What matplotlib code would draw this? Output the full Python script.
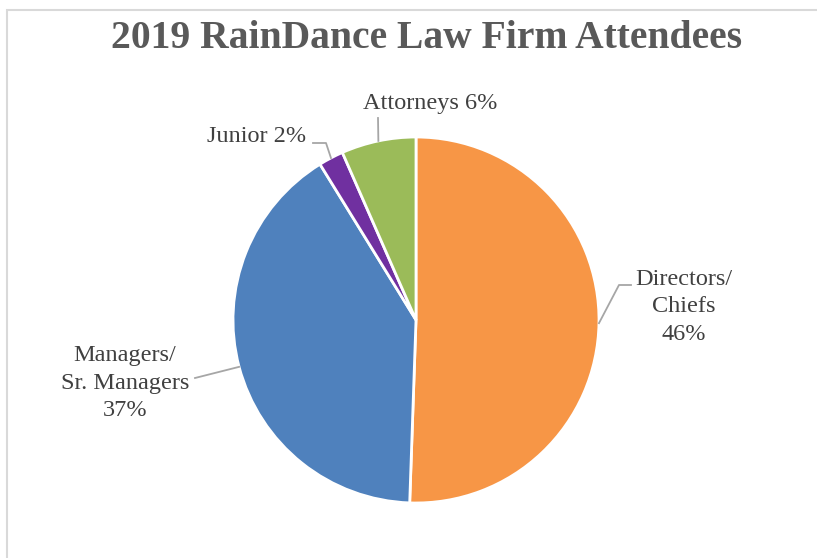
import numpy as np
import matplotlib.pyplot as plt
from matplotlib.patches import Rectangle

# data
categories = ['Directors/\nChiefs', 'Managers/\nSr. Managers', 'Junior', 'Attorneys']
values = [46, 37, 2, 6]
colors = ['#F79646', '#4F81BD', '#7030A0', '#9BBB59']

W, H = 817, 558
CX, CY, R = 416, 320, 183  # pie centre / radius in pixels


def px(x, y):
    # pixel -> pie data coords
    return ((x - CX) / R, (CY - y) / R)


fig = plt.figure(figsize=(W / 100, H / 100), dpi=100)
fig.patches.append(Rectangle((7 / W, -0.1), 1.2, 1 - 9.5 / H + 0.1, transform=fig.transFigure,
                             fill=False, edgecolor='#d9d9d9', lw=1.5))

ax = fig.add_axes([(CX - R) / W, (H - CY - R) / H, 2 * R / W, 2 * R / H])
wedges, _ = ax.pie(values, colors=colors, startangle=90, counterclock=False,
                   wedgeprops=dict(edgecolor='white', linewidth=2))
ax.set_xlim(-1, 1)
ax.set_ylim(-1, 1)
ax.set_aspect('equal')
ax.axis('off')

fig.text(427 / W, 1 - 38 / H, '2019 RainDance Law Firm Attendees', ha='center', va='center',
         fontsize=28.5, fontweight='bold', color='#595959', family='Liberation Serif')

# label texts, text positions and leader elbows (pixels)
label_txt = ['%s\n%d%%' % (categories[0], values[0]),
             '%s\n%d%%' % (categories[1], values[1]),
             '%s %d%%' % (categories[2], values[2]),
             '%s %d%%' % (categories[3], values[3])]
text_pos = [(684, 307), (125, 383), (257, 137), (430, 104)]
leader_mid = [(619, 285), None, (326, 143), None]
leader_end = [(631, 285), (195, 378), (313, 143), (378, 118)]

for w, txt, tp, mid, end in zip(wedges, label_txt, text_pos, leader_mid, leader_end):
    ang = np.deg2rad((w.theta1 + w.theta2) / 2)
    pts = [(np.cos(ang), np.sin(ang))]
    if mid is not None:
        pts.append(px(*mid))
    pts.append(px(*end))
    xs, ys = zip(*pts)
    ax.plot(xs, ys, color='#a6a6a6', lw=1.3, clip_on=False)
    tx, ty = px(*tp)
    ax.text(tx, ty, txt, ha='center', va='center', fontsize=17.5, color='#404040',
            family='Liberation Serif', linespacing=1.38)

fig.savefig('out.png', dpi=100)
